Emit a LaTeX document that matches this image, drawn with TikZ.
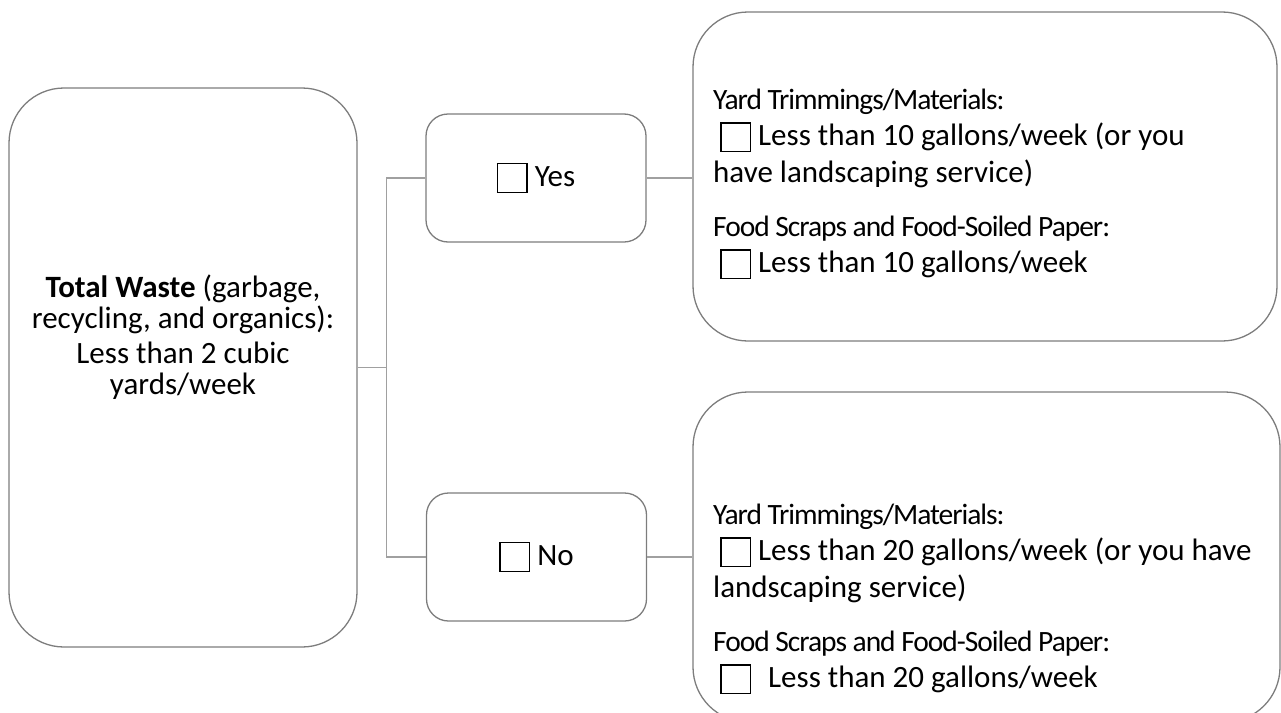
\documentclass[tikz,border=0pt]{standalone}
\usepackage{fontspec}
\setmainfont{Carlito}
\newfontfamily\headfont{Carlito}[LetterSpace=-3.5]
\usetikzlibrary{positioning}
\definecolor{edgegray}{RGB}{125,125,125}
\definecolor{linegray}{RGB}{160,160,160}
\newcommand{\chkbox}{\raisebox{-5pt}{\setlength{\fboxsep}{0pt}\setlength{\fboxrule}{1.4pt}\fbox{\rule{0pt}{27.2pt}\hspace{28.2pt}}}}
\newcommand{\headtxt}[1]{{\headfont\fontsize{29.5}{36.5}\selectfont #1}}

\begin{document}
\begin{tikzpicture}[x=1pt,y=-1pt,font=\fontsize{31}{36.5}\selectfont,
    panel/.style={draw=edgegray,line width=1.3pt,rounded corners=#1,inner sep=0pt},
    panel/.default=22pt,
    conn/.style={draw=linegray,line width=1.2pt},
    txt/.style={inner sep=0pt}]
    \useasboundingbox (0,0) rectangle (1281,712);
    \clip (0,0) rectangle (1281,712);
    % boxes
    \node[panel=55pt,minimum width=348,minimum height=559] (total) at (183,367.5) {};
    \node[panel,minimum width=220,minimum height=128] (yes) at (536,178) {\chkbox\ Yes};
    \node[panel,minimum width=220,minimum height=128] (no) at (536.5,557) {\chkbox\ No};
    \node[panel=55pt,minimum width=584,minimum height=329] (yardhi) at (985,176.5) {};
    \node[panel=55pt,minimum width=587,minimum height=330] (yardlo) at (986.5,557) {};
    % texts
    \node[txt,align=center,font=\fontsize{31}{31.5}\selectfont] (totaltext) at (183,337)
        {\textbf{Total Waste} (garbage,\\ recycling, and organics):\\[3pt] Less than 2 cubic\\ yards/week};
    \node[txt,align=left,anchor=west] (yardhitext) at (713,184)
        {\headtxt{Yard Trimmings/Materials:}\\
         \hspace*{7pt}\chkbox\ Less than 10 gallons/week (or you\\
         have landscaping service)\\[17.5pt]
         \headtxt{Food Scraps and Food-Soiled Paper:}\\
         \hspace*{7pt}\chkbox\ Less than 10 gallons/week};
    \node[txt,align=left,anchor=west] (yardlotext) at (713,599)
        {\headtxt{Yard Trimmings/Materials:}\\
         \hspace*{7pt}\chkbox\ Less than 20 gallons/week (or you have\\
         landscaping service)\\[17.5pt]
         \headtxt{Food Scraps and Food-Soiled Paper:}\\
         \hspace*{7pt}\chkbox\hspace{17pt}Less than 20 gallons/week};
    % connectors
    \coordinate[right=29pt of total.east] (split);
    \draw[conn] (total.east) -- (split);
    \draw[conn] (yes.west) -| (split) |- (no.west);
    \draw[conn] (yes.east) -- (yes.east -| yardhi.west);
    \draw[conn] (no.east) -- (no.east -| yardlo.west);
\end{tikzpicture}
\end{document}
